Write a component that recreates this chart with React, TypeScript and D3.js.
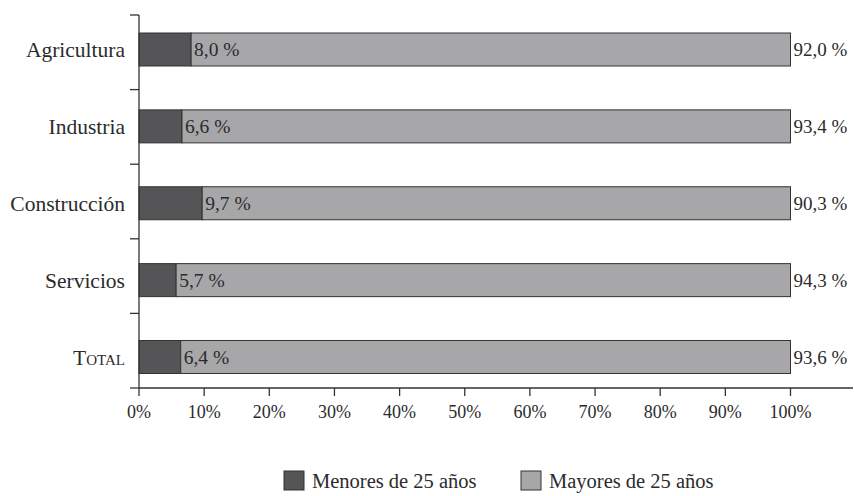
import React from "react";
import * as d3 from "d3";

const categories = ["Agricultura", "Industria", "Construcción", "Servicios", "Total"];
const menores = [8.0, 6.6, 9.7, 5.7, 6.4];
const mayores = [92.0, 93.4, 90.3, 94.3, 93.6];
const xTicks = [0, 10, 20, 30, 40, 50, 60, 70, 80, 90, 100];
const seriesNames = ["Menores de 25 años", "Mayores de 25 años"];

const W = 854;
const H = 496;
const FONT = "'Liberation Serif', 'DejaVu Serif', serif";
const DARK = "#555557";
const LIGHT = "#a7a7aa";
const STROKE = "#333333";
const TEXT = "#2b2b2b";

export default function App() {
  const x = d3.scaleLinear().domain([0, 100]).range([139, 790.5]);
  const axisY = 388;
  // band scale for the category tick divisions
  const y = d3.scaleBand<string>().domain(categories).range([15, axisY]).padding(0);
  // point scale for bar centres
  const yc = d3.scalePoint<string>().domain(categories).range([49.5, 357]);
  const barH = 33;
  const fmt = (v: number) => d3.format(".1f")(v).replace(".", ",") + " %";

  return (
    <svg
      width={W}
      height={H}
      style={{ position: "absolute", left: 0, top: 0, background: "#fff" }}
      fontFamily={FONT}
    >
      {/* bars */}
      {categories.map((c, i) => {
        const cy = yc(c) as number;
        const y0 = cy - barH / 2;
        const xm = x(menores[i]);
        const xe = x(menores[i] + mayores[i]);
        return (
          <g key={c}>
            <rect x={x(0)} y={y0} width={xm - x(0)} height={barH} fill={DARK} stroke={STROKE} strokeWidth={1} />
            <rect x={xm} y={y0} width={xe - xm} height={barH} fill={LIGHT} stroke={STROKE} strokeWidth={1} />
            <text x={xm + 3} y={cy} dy="0.35em" fontSize={19.5} fill={TEXT}>
              {fmt(menores[i])}
            </text>
            <text x={xe + 3} y={cy} dy="0.35em" fontSize={19} fill={TEXT}>
              {fmt(mayores[i])}
            </text>
            <text
              x={125}
              y={cy}
              dy="0.35em"
              fontSize={21.5}
              textAnchor="end"
              fill={TEXT}
              style={c === "Total" ? { fontVariant: "small-caps" } : undefined}
            >
              {c}
            </text>
          </g>
        );
      })}

      {/* y axis */}
      <line x1={139} x2={139} y1={15} y2={axisY} stroke={STROKE} strokeWidth={1.3} />
      {[...categories.map((c) => y(c) as number), axisY].map((t, i) => (
        <line key={i} x1={130} x2={139} y1={t} y2={t} stroke={STROKE} strokeWidth={1.3} />
      ))}

      {/* x axis */}
      <line x1={139} x2={853} y1={axisY} y2={axisY} stroke={STROKE} strokeWidth={1.3} />
      {xTicks.map((t) => (
        <g key={t}>
          <line x1={x(t)} x2={x(t)} y1={axisY} y2={axisY + 8} stroke={STROKE} strokeWidth={1.3} />
          <text x={x(t)} y={418} fontSize={18} textAnchor="middle" fill={TEXT}>
            {t + "%"}
          </text>
        </g>
      ))}

      {/* legend */}
      {seriesNames.map((s, i) => {
        const lx = i === 0 ? 284 : 521;
        return (
          <g key={s}>
            <rect x={lx} y={471} width={20} height={19} fill={i === 0 ? DARK : LIGHT} stroke={STROKE} strokeWidth={1} />
            <text x={lx + 28} y={488} fontSize={20.5} fill={TEXT}>
              {s}
            </text>
          </g>
        );
      })}
    </svg>
  );
}
